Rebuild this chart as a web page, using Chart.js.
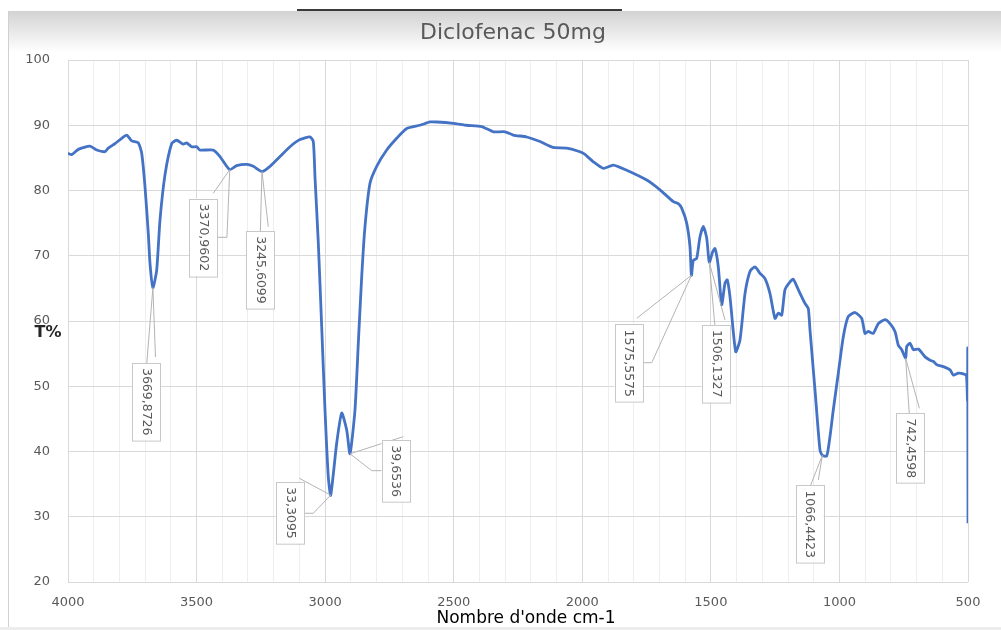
<!DOCTYPE html>
<html>
<head>
<meta charset="utf-8">
<title>Diclofenac 50mg</title>
<script src="https://cdn.jsdelivr.net/npm/chart.js@4/dist/chart.umd.min.js"></script>
<style>
  html, body { margin: 0; padding: 0; background: #fff; }
  #wrap { width: 1001px; height: 630px; }
</style>
</head>
<body>
<div id="wrap"><canvas id="irChart" width="1001" height="630"></canvas></div>
<script>
// IR spectrum, wavenumber (cm-1) against transmittance (%)
const wavenumber = [4000, 3985.6, 3960, 3914.4, 3888.4, 3856.1, 3843.3, 3817.2, 3791.2, 3771.7,
  3752.3, 3726.6, 3713.4, 3700.6, 3687.7, 3681.1, 3669.8726, 3655.1, 3642.2, 3622.8,
  3596.7, 3577.3, 3551.6, 3538.4, 3518.9, 3499.5, 3486.7, 3435, 3408.9, 3370.9602,
  3344, 3305.1, 3279.4, 3245.6099, 3214.4, 3175.6, 3136.7, 3097.8, 3058.9, 3046,
  3039.4, 3026.6, 3013.4, 3000.6, 2987.7, 2978.4, 2955, 2935.6, 2916.2, 2903.3,
  2883.9, 2871, 2857.8, 2845, 2825.6, 2799.5, 2760.6, 2721.7, 2682.8, 2631.1,
  2592.2, 2566.2, 2501.6, 2449.5, 2391.2, 2346, 2300.6, 2268.3, 2216.2, 2164.4,
  2112.7, 2060.6, 1996.1, 1957.2, 1918.3, 1879.4, 1827.3, 1749.5, 1697.8, 1646.1,
  1626.6, 1613.4, 1594, 1581.2, 1575.5575, 1568.3, 1555.1, 1542.2, 1529.3, 1516.1,
  1506.1327, 1492.9, 1483.9, 1471.1, 1457.9, 1445, 1436.1, 1425.6, 1403.4, 1386.7,
  1367.2, 1347.8, 1328.3, 1308.9, 1289.4, 1270, 1250.6, 1237.8, 1224.5, 1211.7,
  1192.2, 1179.4, 1159.9, 1133.9, 1121.1, 1114.4, 1095, 1075.6, 1066.4423, 1049.4,
  1036.7, 1023.8, 1004.4, 984.9, 965.5, 939.4, 913.4, 900.6, 887.8, 868.3,
  848.9, 822.8, 803.3, 783.9, 771.1, 757.8, 742.4598, 738.2, 725.3, 712.5,
  693, 667, 647.6, 634.7, 621.5, 595.8, 569.8, 556.9, 537.5, 518,
  506, 502, 501, 500];

const transmittance = [85.7, 85.5, 86.3, 86.8, 86.2, 85.95, 86.5, 87.2, 88.0, 88.5,
  87.6, 87.3, 85.7, 80.6, 73.4, 68.8, 65.1, 67.8, 75.5, 82.4,
  87.2, 87.7, 87.1, 87.3, 86.7, 86.7, 86.2, 86.2, 85.2, 83.2,
  83.8, 84.0, 83.7, 82.9, 83.7, 85.2, 86.7, 87.8, 88.2, 87.5,
  82.0, 72.0, 59.1, 46.4, 36.1, 33.3095, 41.3, 45.9, 43.3, 39.6536,
  46.4, 56.6, 66.8, 74.5, 81.1, 83.7, 86.2, 88.0, 89.5, 90.0,
  90.5, 90.5, 90.3, 90.0, 89.8, 89.0, 89.0, 88.5, 88.2, 87.5,
  86.6, 86.5, 85.7, 84.4, 83.4, 83.9, 83.1, 81.6, 80.1, 78.3,
  78.0, 77.3, 75.0, 71.4, 67.0, 69.3, 69.6, 72.9, 74.5, 72.7,
  69.0, 70.6, 71.1, 68.3, 62.5, 65.8, 66.3, 63.7, 55.3, 57.1,
  64.2, 67.6, 68.3, 67.3, 66.5, 64.2, 60.4, 61.2, 60.9, 64.8,
  66.0, 66.4, 64.8, 62.7, 61.9, 58.6, 49.4, 40.2, 39.4, 39.3,
  42.3, 46.4, 52.0, 57.6, 60.7, 61.3, 60.4, 58.1, 58.4, 58.1,
  59.6, 60.2, 59.6, 58.4, 56.3, 55.6, 54.3, 56.1, 56.6, 55.6,
  55.7, 54.5, 54.0, 53.8, 53.3, 53.0, 52.5, 51.7, 52.0, 51.9,
  51.6, 47.8, 55.8, 29.0];

// peaks that get a callout, and which value the callout shows
const labelledPeaks = [3669.8726, 3370.9602, 3245.6099, 2978.4, 2903.3, 1575.5575, 1506.1327, 1066.4423, 742.4598];
const peakLabelField = ['x', 'x', 'x', 'y', 'y', 'x', 'x', 'x', 'x'];

const xTickLabels = [4000, 3500, 3000, 2500, 2000, 1500, 1000, 500];
const yTickLabels = [20, 30, 40, 50, 60, 70, 80, 90, 100];

// callout placement, in pixels relative to the peak: box centre, leader bends, second thin line
const calloutLayout = [
  { box: [-6.6, 114], path: [[-6.2, 76.6]], ghost: [2.6, 69.3] },
  { box: [-26.5, 67.7], path: [[-2.8, 67.7], [-12.5, 67.7]], ghost: [-16.5, 23.7] },
  { box: [-1.7, 98.4], path: [[-1.7, 61.7]], ghost: [6.3, 55.1] },
  { box: [-40.2, 17.8], path: [[-17.4, 18.1], [-25.7, 18.1]], ghost: [-31.4, -16.9] },
  { box: [45.5, 17.4], path: [[21.7, 16.9], [31.7, 16.9]], ghost: [53.3, -17.1] },
  { box: [-62.9, 87.9], path: [[-39.7, 87.4], [-48.7, 87.4]], ghost: [-54.7, 43] },
  { box: [6.5, 101.4], path: [[5.7, 64.4]], ghost: [15.7, 57.7] },
  { box: [-12.8, 68.8], path: [[-12.3, 31.3]], ghost: [-4, 24.6] },
  { box: [4.6, 90.1], path: [[3.7, 56.8]], ghost: [13.7, 50.1] }
];

const points = wavenumber.map((w, i) => ({ x: w, y: transmittance[i] }));

// page frame, title and axis titles
const framePlugin = {
  id: 'frame',
  beforeDraw(chart) {
    const c = chart.ctx;
    c.save();
    c.fillStyle = '#ffffff';
    c.fillRect(0, 0, chart.width, chart.height);
    const g = c.createLinearGradient(0, 11, 0, 52);
    g.addColorStop(0, '#d2d2d2');
    g.addColorStop(1, '#ffffff');
    c.fillStyle = g;
    c.fillRect(8, 11, chart.width - 8, 41);
    c.fillStyle = '#ececec';
    c.fillRect(0, 627, chart.width, 3);
    c.strokeStyle = '#d0d0d0';
    c.lineWidth = 1;
    c.beginPath();
    c.moveTo(8.5, 11);
    c.lineTo(8.5, 627);
    c.stroke();
    c.fillStyle = '#3a3a3a';
    c.fillRect(297, 9, 325, 2);
    c.restore();
  },
  afterDraw(chart) {
    const c = chart.ctx;
    c.save();
    c.textAlign = 'center';
    c.textBaseline = 'middle';
    c.fillStyle = '#595959';
    c.font = '22px "DejaVu Sans"';
    c.fillText('Diclofenac 50mg', 513, 33);
    c.fillStyle = '#000000';
    c.font = '17px "DejaVu Sans"';
    c.fillText("Nombre d'onde cm-1", 526, 619);
    c.fillStyle = '#262626';
    c.font = 'bold 16px "DejaVu Sans"';
    c.fillText('T%', 48, 333);
    c.restore();
  }
};

function formatValue(v) {
  return String(v).replace('.', ',');
}

// boxed, vertical value labels with leader lines
const calloutPlugin = {
  id: 'callouts',
  afterDatasetsDraw(chart) {
    const c = chart.ctx;
    const meta = chart.getDatasetMeta(0);
    c.save();
    c.font = '12.5px "DejaVu Sans"';
    labelledPeaks.forEach((peak, k) => {
      const i = wavenumber.indexOf(peak);
      if (i < 0) return;
      const el = meta.data[i];
      const px = el.x, py = el.y;
      const lay = calloutLayout[k];
      const text = formatValue(peakLabelField[k] === 'x' ? wavenumber[i] : transmittance[i]);
      const tw = c.measureText(text).width;
      const bw = 28, bh = tw + 10;
      const bx = px + lay.box[0], by = py + lay.box[1];

      c.strokeStyle = '#b4b4b4';
      c.lineWidth = 1;
      c.beginPath();
      c.moveTo(px, py);
      c.lineTo(px + lay.ghost[0], py + lay.ghost[1]);
      c.stroke();
      c.beginPath();
      c.moveTo(px, py);
      lay.path.forEach(p => c.lineTo(px + p[0], py + p[1]));
      c.stroke();

      c.fillStyle = '#ffffff';
      c.fillRect(bx - bw / 2, by - bh / 2, bw, bh);
      c.strokeStyle = '#c8c8c8';
      c.strokeRect(Math.round(bx - bw / 2) + 0.5, Math.round(by - bh / 2) + 0.5, bw, bh);

      c.translate(bx, by);
      c.rotate(Math.PI / 2);
      c.fillStyle = '#595959';
      c.textAlign = 'center';
      c.textBaseline = 'middle';
      c.fillText(text, 0, 0);
      c.setTransform(1, 0, 0, 1, 0, 0);
    });
    c.restore();
  }
};

const ctx = document.getElementById('irChart').getContext('2d');
const irChart = new Chart(ctx, {
  type: 'line',
  data: {
    datasets: [{
      label: 'T%',
      data: points,
      borderColor: '#4472C4',
      borderWidth: 2.8,
      pointRadius: 0,
      tension: 0.2,
      fill: false
    }]
  },
  options: {
    responsive: false,
    animation: false,
    layout: { padding: { top: 60, right: 33, left: 0, bottom: 0 } },
    plugins: {
      legend: { display: false },
      tooltip: { enabled: false }
    },
    scales: {
      x: {
        type: 'linear',
        reverse: true,
        min: 500,
        max: 4000,
        afterBuildTicks: scale => {
          const ticks = [];
          for (let v = 500; v <= 4000; v += 100) ticks.push({ value: v });
          scale.ticks = ticks;
        },
        ticks: {
          autoSkip: false,
          maxRotation: 0,
          padding: 13,
          color: '#595959',
          font: { family: 'DejaVu Sans', size: 13 },
          callback: v => xTickLabels.includes(v) ? String(v) : ''
        },
        grid: {
          drawTicks: false,
          color: c => xTickLabels.includes(c.tick.value) ? '#d9d9d9' : '#eeeeee'
        },
        border: { display: false },
        afterFit: scale => { scale.height = 48; }
      },
      y: {
        min: 20,
        max: 100,
        afterBuildTicks: scale => {
          scale.ticks = yTickLabels.map(v => ({ value: v }));
        },
        ticks: {
          padding: 18,
          color: '#595959',
          font: { family: 'DejaVu Sans', size: 13 }
        },
        grid: { drawTicks: false, color: '#d9d9d9' },
        border: { display: false },
        afterFit: scale => { scale.width = 68; }
      }
    }
  },
  plugins: [framePlugin, calloutPlugin]
});
</script>
</body>
</html>
